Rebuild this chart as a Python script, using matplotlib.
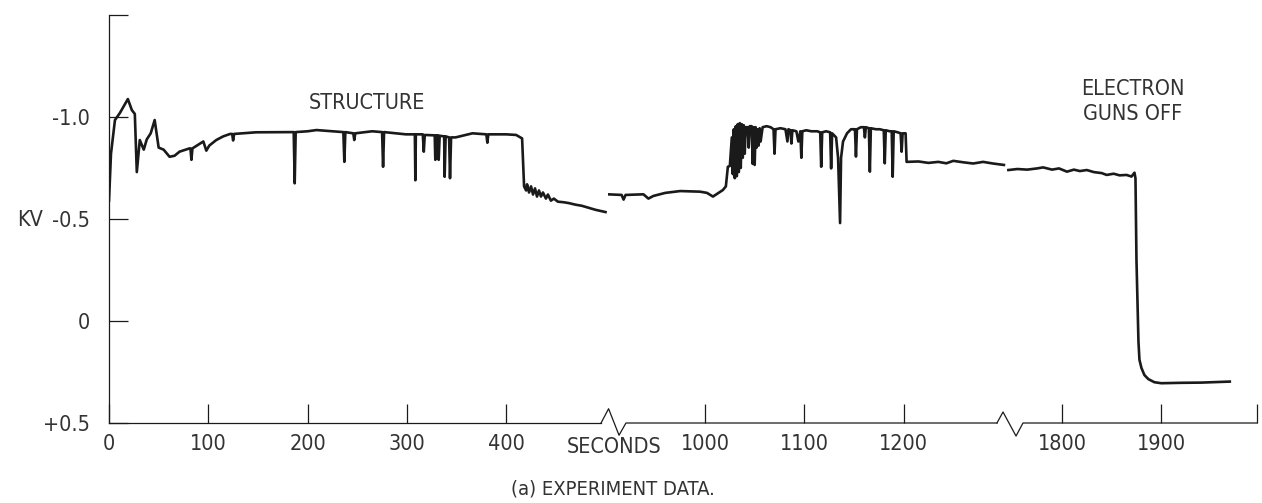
import matplotlib
matplotlib.use("Agg")
from matplotlib import pyplot as plt
from matplotlib import transforms

plt.rcParams['font.family'] = ['DejaVu Sans']
plt.rcParams['font.stretch'] = 'condensed'

# 第一段 0 - 500 s
t_1 = [0, 2, 6, 11, 19, 23, 26, 28, 31, 35, 38, 42, 46, 50, 55, 61, 66, 71, 81, 82, 83, 84,
       95, 98, 101, 108, 115, 122, 124, 125, 126, 148, 186, 187, 188, 200, 209, 225,
       236, 237, 238, 246, 247, 248, 265, 275, 276, 277, 299, 308, 308.5, 309,
       316, 317, 318, 328, 328.6, 329.5, 331.5, 332, 333, 337.5, 338, 339, 342.5, 343.4, 344.5,
       349, 366, 380, 381, 382, 400, 410, 416, 418,
       420, 421, 423, 425, 427, 429, 431, 433, 435, 437, 440, 442, 445, 448, 452, 458, 463,
       470, 476, 483, 490, 500]
kv_1 = [-0.59, -0.82, -0.985, -1.02, -1.088, -1.034, -1.015, -0.73, -0.887, -0.84, -0.89, -0.92,
        -0.985, -0.85, -0.84, -0.805, -0.81, -0.83, -0.846, -0.846, -0.79, -0.846,
        -0.88, -0.835, -0.86, -0.887, -0.905, -0.917, -0.917, -0.885, -0.917, -0.925,
        -0.926, -0.675, -0.926, -0.93, -0.936, -0.93,
        -0.926, -0.78, -0.926, -0.92, -0.887, -0.92, -0.93, -0.926, -0.756, -0.926,
        -0.915, -0.915, -0.69, -0.915,
        -0.915, -0.83, -0.912, -0.91, -0.79, -0.91, -0.91, -0.79, -0.908, -0.905, -0.707, -0.905,
        -0.9, -0.70, -0.9,
        -0.90, -0.92, -0.915, -0.874, -0.915, -0.915, -0.912, -0.895, -0.66,
        -0.64, -0.67, -0.63, -0.66, -0.62, -0.65, -0.61, -0.64, -0.61, -0.63, -0.6, -0.62,
        -0.59, -0.6, -0.585, -0.582, -0.578, -0.57, -0.565, -0.555, -0.545, -0.534]

# 第二段 900 - 1300 s
t_2 = [902, 916, 918, 920, 938, 943, 948, 960, 975, 995, 1002, 1008, 1018, 1021, 1023, 1025,
       1027, 1028, 1029, 1030, 1031, 1032, 1033, 1034, 1035, 1036, 1037, 1038, 1039, 1040,
       1041, 1043, 1044, 1045, 1047, 1048, 1049, 1050, 1051, 1052, 1053, 1054, 1055, 1056,
       1058, 1062, 1066, 1069, 1070, 1071, 1076, 1081, 1083, 1084, 1086, 1087, 1088, 1092,
       1094, 1096, 1097, 1098, 1102, 1107, 1113, 1116, 1117, 1118, 1122, 1126, 1127, 1128,
       1132, 1134, 1136, 1137, 1139, 1143, 1147, 1150, 1151, 1152, 1153, 1157, 1160, 1161,
       1162, 1165, 1166, 1167, 1172, 1176, 1180, 1181, 1182, 1186, 1188, 1189, 1190, 1194,
       1197, 1198, 1199, 1202, 1203, 1215, 1225, 1235, 1243, 1250, 1260, 1270, 1280, 1290,
       1301]
kv_2 = [-0.621, -0.618, -0.595, -0.618, -0.621, -0.60, -0.613, -0.628, -0.637, -0.634, -0.628,
        -0.61, -0.642, -0.66, -0.756, -0.76,
        -0.9, -0.72, -0.94, -0.70, -0.955, -0.71, -0.965, -0.73, -0.97, -0.75, -0.965, -0.80,
        -0.96, -0.82,
        -0.95, -0.95, -0.85, -0.955, -0.955, -0.77, -0.95, -0.765, -0.95, -0.85, -0.94, -0.86,
        -0.945, -0.88,
        -0.95, -0.955, -0.95, -0.94, -0.82, -0.94, -0.945, -0.94, -0.88, -0.94, -0.935, -0.87,
        -0.935, -0.93,
        -0.88, -0.93, -0.80, -0.93, -0.935, -0.93, -0.93, -0.925, -0.756, -0.925, -0.93,
        -0.925, -0.748, -0.92,
        -0.90, -0.80, -0.48, -0.80, -0.88, -0.92, -0.94, -0.94, -0.94, -0.806, -0.94, -0.95,
        -0.95, -0.90,
        -0.95, -0.945, -0.732, -0.945, -0.94, -0.94, -0.935, -0.773, -0.935, -0.93, -0.93,
        -0.707, -0.93, -0.925,
        -0.92, -0.83, -0.92, -0.92, -0.78, -0.782, -0.775, -0.78, -0.773, -0.785, -0.778,
        -0.772, -0.78, -0.772,
        -0.765]

# 第三段 1745 - 1970 s
t_3 = [1746, 1755, 1765, 1775, 1781, 1790, 1797, 1805, 1812, 1818, 1825, 1832, 1840, 1845,
       1852, 1858, 1865, 1870, 1873, 1874, 1875, 1876, 1877, 1878, 1880, 1883, 1887, 1893,
       1900, 1920, 1940, 1969]
kv_3 = [-0.74, -0.745, -0.742, -0.748, -0.753, -0.742, -0.748, -0.732, -0.742, -0.735, -0.74,
        -0.73, -0.725, -0.716, -0.722, -0.714, -0.716, -0.708, -0.727, -0.70, -0.3, -0.1,
        0.10, 0.19, 0.23, 0.265, 0.285, 0.30, 0.305, 0.303, 0.302, 0.297]

xticks_1 = [0, 100, 200, 300, 400]
xticks_2 = [1000, 1100, 1200]
xticks_3 = [1800, 1900]
yticks = [-1.5, -1.0, -0.5, 0, 0.5]
ytick_labels = ["", "-1.0", "-0.5", "0", "+0.5"]

W, H = 1262, 503
fig = plt.figure(figsize=(W / 100, H / 100), dpi=100)

bottom = 1 - 423 / H
height = (423 - 15) / H
ax1 = fig.add_axes([109 / W, bottom, (607.5 - 109) / W, height])
ax2 = fig.add_axes([607.5 / W, bottom, (1006 - 607.5) / W, height])
ax3 = fig.add_axes([1006 / W, bottom, (1257 - 1006) / W, height])

ax1.set_xlim(0, 502)
ax2.set_xlim(901.8, 1303.1)
ax3.set_xlim(1743.6, 1996.4)

ink = "#1a1a1a"
txt = "#333333"
fs = 15.5

for ax, t, kv, xt in [(ax1, t_1, kv_1, xticks_1), (ax2, t_2, kv_2, xticks_2),
                      (ax3, t_3, kv_3, xticks_3)]:
    ax.plot(t, kv, color=ink, lw=1.9, solid_joinstyle="round")
    ax.set_ylim(0.5, -1.5)
    for s in ["top", "right", "bottom", "left"]:
        ax.spines[s].set_visible(False)
    ax.patch.set_alpha(0)
    ax.set_xticks(xt)
    ax.set_xticklabels([str(v) for v in xt])
    ax.tick_params(axis="x", direction="in", length=14, width=0.9, color=ink,
                   labelsize=fs, labelcolor=txt, pad=8)
    ax.set_yticks([])

# 右端刻度
ax3.set_xticks(xticks_3 + [1996.4])
ax3.set_xticklabels([str(v) for v in xticks_3] + [""])

ax1.spines["left"].set_visible(True)
ax1.spines["left"].set_linewidth(0.9)
ax1.spines["left"].set_color(ink)
ax1.set_yticks(yticks)
ax1.set_yticklabels(ytick_labels)
ax1.tick_params(axis="y", direction="in", length=14, width=0.9, color=ink,
                labelsize=fs, labelcolor=txt, pad=14)

# 横轴及断开符号
tr1 = transforms.blended_transform_factory(ax1.transData, ax1.transAxes)
tr2 = transforms.blended_transform_factory(ax2.transData, ax2.transAxes)
tr3 = transforms.blended_transform_factory(ax3.transData, ax3.transAxes)
ax1.plot([0, 495.5], [0, 0], color=ink, lw=0.9, transform=tr1, clip_on=False)
ax2.plot([895.3, 902.9, 913.4, 920.4, 1294], [0, 0.035, -0.03, 0, 0], color=ink, lw=0.9,
         transform=tr2, clip_on=False)
ax3.plot([1734.5, 1740.6, 1753.7, 1760.7, 1996.4], [0, 0.027, -0.032, 0, 0], color=ink, lw=0.9,
         transform=tr3, clip_on=False)

# 文字
ax1.text(260, -1.07, "STRUCTURE", ha="center", va="center", fontsize=fs, color=txt)
ax3.text(1871, -1.075, "ELECTRON\nGUNS OFF", ha="center", va="center", fontsize=fs,
         color=txt, linespacing=1.3)
ax2.text(908.4, -0.058, "SECONDS", ha="center", va="center", fontsize=fs, color=txt,
         transform=tr2)
ax2.text(907.4, -0.162, "(a) EXPERIMENT DATA.", ha="center", va="center", fontsize=14.5,
         color=txt, transform=tr2)
fig.text(30 / W, 1 - 220 / H, "KV", ha="center", va="center", fontsize=fs, color=txt)

plt.savefig("out.png", dpi=100)
